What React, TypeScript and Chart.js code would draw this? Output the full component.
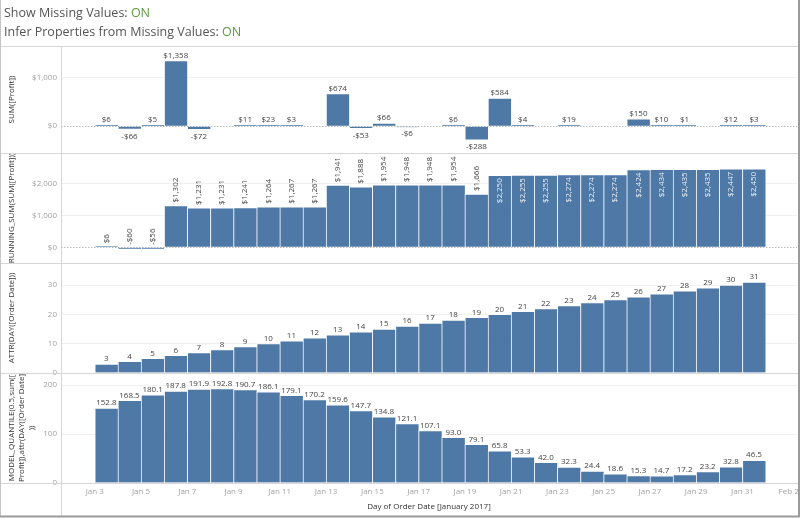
import React, { useEffect, useRef } from "react";
import { Chart, registerables } from "chart.js";

Chart.register(...registerables);

const days = [3, 4, 5, 6, 7, 8, 9, 10, 11, 12, 13, 14, 15, 16, 17, 18, 19, 20, 21, 22, 23, 24, 25, 26, 27, 28, 29, 30, 31];
const sumProfit: (number | null)[] = [6, -66, 5, 1358, -72, null, 11, 23, 3, null, 674, -53, 66, -6, null, 6, -288, 584, 4, null, 19, null, null, 150, 10, 1, null, 12, 3];
const runningSum = [6, -60, -56, 1302, 1231, 1231, 1241, 1264, 1267, 1267, 1941, 1888, 1954, 1948, 1948, 1954, 1666, 2250, 2255, 2255, 2274, 2274, 2274, 2424, 2434, 2435, 2435, 2447, 2450];
const dayOfDate = [3, 4, 5, 6, 7, 8, 9, 10, 11, 12, 13, 14, 15, 16, 17, 18, 19, 20, 21, 22, 23, 24, 25, 26, 27, 28, 29, 30, 31];
const medianModel = [152.8, 168.5, 180.1, 187.8, 191.9, 192.8, 190.7, 186.1, 179.1, 170.2, 159.6, 147.7, 134.8, 121.1, 107.1, 93.0, 79.1, 65.8, 53.3, 42.0, 32.3, 24.4, 18.6, 15.3, 14.7, 17.2, 23.2, 32.8, 46.5];

const xTickDays = [3, 5, 7, 9, 11, 13, 15, 17, 19, 21, 23, 25, 27, 29, 31, 33];
const xTickLabels = ["Jan 3", "Jan 5", "Jan 7", "Jan 9", "Jan 11", "Jan 13", "Jan 15", "Jan 17", "Jan 19", "Jan 21", "Jan 23", "Jan 25", "Jan 27", "Jan 29", "Jan 31", "Feb 2"];
const profitTicks = [0, 1000];
const runningTicks = [0, 1000, 2000];
const dayTicks = [0, 10, 20, 30];
const medianTicks = [0, 100, 200];

const FONT = "'Open Sans', 'Noto Sans', sans-serif";
const BAR = "#4e79a7";
const BAR_EDGE = "rgba(255,255,255,0.6)";

const withCommas = (n: number) => n.toFixed(0).replace(/\B(?=(\d{3})+(?!\d))/g, ",");
const money = (v: number) => (v < 0 ? "-" : "") + "$" + withCommas(Math.abs(v));
const int = (v: number) => String(Math.round(v));
const dec1 = (v: number) => v.toFixed(1);

const toPoints = (vals: (number | null)[]) => days.map((d, i) => ({ x: d + 0.5, y: vals[i] }));

function makeY(title: string | string[], min: number, max: number, ticks: number[], weight: number, fmt: (v: number) => string) {
  return {
    type: "linear" as const,
    position: "left" as const,
    stack: "panels",
    stackWeight: weight,
    min,
    max,
    afterBuildTicks: (s: any) => {
      s.ticks = ticks.map((v) => ({ value: v }));
    },
    afterFit: (s: any) => {
      s.width = 61;
      s.paddingTop = 0;
      s.paddingBottom = 0;
    },
    ticks: {
      callback: (v: any) => fmt(Number(v)),
      color: "#a3a3a3",
      font: { size: 8, family: FONT },
      padding: 4,
    },
    grid: {
      drawTicks: false,
      color: (c: any) => (c.tick && c.tick.value === 0 ? "rgba(0,0,0,0)" : "#f0f0f0"),
      lineWidth: 1,
    },
    border: { display: false },
    title: {
      display: true,
      text: title,
      color: "#333",
      font: { size: 8, family: FONT, lineHeight: 1.25 },
      padding: { top: 7, bottom: 0 },
    },
  };
}

const framePlugin = {
  id: "frame",
  beforeDatasetsDraw(chart: any) {
    const { ctx, chartArea } = chart;
    ctx.save();
    ctx.strokeStyle = "#d6d6d6";
    ctx.lineWidth = 1;
    const ys = [chartArea.top];
    ["yProfit", "yRunning", "yDay", "yMedian"].forEach((id) => ys.push(chart.scales[id].bottom));
    ys.forEach((y) => {
      const yy = Math.round(y) + 0.5;
      ctx.beginPath();
      ctx.moveTo(0, yy);
      ctx.lineTo(chartArea.right + 1, yy);
      ctx.stroke();
    });
    const xl = Math.round(chartArea.left) + 0.5;
    ctx.beginPath();
    ctx.moveTo(xl, chartArea.top);
    ctx.lineTo(xl, chart.height - 3);
    ctx.stroke();
    ctx.strokeStyle = "#bdbdbd";
    ctx.setLineDash([1.5, 1.5]);
    ["yProfit", "yRunning"].forEach((id) => {
      const y = Math.round(chart.scales[id].getPixelForValue(0)) + 0.5;
      ctx.beginPath();
      ctx.moveTo(chartArea.left, y);
      ctx.lineTo(chartArea.right, y);
      ctx.stroke();
    });
    ctx.restore();
  },
  afterDraw(chart: any) {
    const { ctx, width, height } = chart;
    ctx.save();
    ctx.strokeStyle = "#c4c4c4";
    ctx.lineWidth = 1;
    ctx.beginPath();
    ctx.moveTo(0.5, 0);
    ctx.lineTo(0.5, height - 2);
    ctx.stroke();
    ctx.strokeStyle = "#9a9a9a";
    ctx.lineWidth = 2;
    ctx.beginPath();
    ctx.moveTo(0, height - 2.5);
    ctx.lineTo(width - 3, height - 2.5);
    ctx.lineTo(width - 3, 0);
    ctx.stroke();
    ctx.restore();
  },
};

const labelPlugin = {
  id: "valueLabels",
  afterDatasetsDraw(chart: any) {
    const ctx = chart.ctx;
    ctx.save();
    ctx.font = `8px ${FONT}`;
    chart.data.datasets.forEach((ds: any, di: number) => {
      const meta = chart.getDatasetMeta(di);
      const yScale = chart.scales[ds.yAxisID];
      meta.data.forEach((el: any, i: number) => {
        const v = ds.data[i].y;
        if (v === null || v === undefined) return;
        const { x, y, base } = el.getProps(["x", "y", "base"], true);
        const top = Math.min(y, base);
        const bottom = Math.max(y, base);
        if (ds.kind === "money") {
          const t = money(v);
          ctx.fillStyle = "#444";
          ctx.textAlign = "center";
          if (v >= 0) {
            ctx.textBaseline = "bottom";
            ctx.fillText(t, x, top - 1);
          } else {
            ctx.textBaseline = "top";
            ctx.fillText(t, x, bottom + 3);
          }
        } else if (ds.kind === "moneyRot") {
          const t = money(v);
          const w = ctx.measureText(t).width;
          ctx.save();
          ctx.translate(x, top);
          ctx.rotate(-Math.PI / 2);
          ctx.textBaseline = "middle";
          if (top - 3 - w < yScale.top) {
            ctx.fillStyle = "rgba(255,255,255,0.88)";
            ctx.textAlign = "right";
            ctx.fillText(t, -3, 0);
          } else {
            ctx.fillStyle = "#444";
            ctx.textAlign = "left";
            ctx.fillText(t, 3, 0);
          }
          ctx.restore();
        } else {
          const t = ds.kind === "int" ? int(v) : dec1(v);
          ctx.fillStyle = "#444";
          ctx.textAlign = "center";
          ctx.textBaseline = "bottom";
          ctx.fillText(t, x, top - 1);
        }
      });
    });
    ctx.restore();
  },
};

const barStyle = {
  backgroundColor: BAR,
  borderColor: BAR_EDGE,
  borderWidth: { top: 1, left: 1, right: 0, bottom: 1 },
  borderSkipped: "start",
  grouped: false,
  barPercentage: 1,
  categoryPercentage: 1,
  minBarLength: 1,
};

export default function App() {
  const ref = useRef<HTMLCanvasElement | null>(null);

  useEffect(() => {
    document.body.style.margin = "0";
    if (!ref.current) return;
    Chart.defaults.font.family = FONT;
    const chart = new Chart(ref.current, {
      type: "bar",
      data: {
        datasets: [
          { label: "SUM([Profit])", data: toPoints(sumProfit), yAxisID: "yProfit", kind: "money", ...barStyle } as any,
          { label: "RUNNING_SUM(SUM([Profit]))", data: toPoints(runningSum), yAxisID: "yRunning", kind: "moneyRot", ...barStyle } as any,
          { label: "ATTR(DAY([Order Date]))", data: toPoints(dayOfDate), yAxisID: "yDay", kind: "int", ...barStyle } as any,
          { label: "MODEL_QUANTILE", data: toPoints(medianModel), yAxisID: "yMedian", kind: "dec", ...barStyle } as any,
        ],
      },
      options: {
        animation: false,
        responsive: false,
        events: [],
        layout: { padding: { top: 46, right: 5, bottom: 5, left: 0 } },
        plugins: { legend: { display: false }, tooltip: { enabled: false }, colors: { enabled: false } } as any,
        scales: {
          x: {
            type: "linear",
            offset: false,
            min: 1.539,
            max: 33.36,
            afterBuildTicks: (s: any) => {
              s.ticks = xTickDays.map((v) => ({ value: v }));
            },
            afterFit: (s: any) => {
              s.height = 31;
              s.paddingLeft = 0;
              s.paddingRight = 0;
            },
            ticks: {
              callback: (_v: any, i: number) => xTickLabels[i],
              color: "#a3a3a3",
              font: { size: 8, family: FONT },
              padding: 4,
              autoSkip: false,
              maxRotation: 0,
            },
            grid: { display: false, drawTicks: false },
            border: { display: false },
            title: {
              display: true,
              text: "Day of Order Date [January 2017]",
              color: "#333",
              font: { size: 8, family: FONT },
              padding: { top: 6, bottom: 2 },
            },
          },
          yMedian: makeY(["MODEL_QUANTILE(0.5,sum([", "Profit]),attr(DAY([Order Date]", "))"], 0, 224.5, medianTicks, 110, int),
          yDay: makeY("ATTR(DAY([Order Date]))", 0, 37.5, dayTicks, 110, int),
          yRunning: makeY("RUNNING_SUM(SUM([Profit]))", -490, 2945, runningTicks, 110, money),
          yProfit: makeY("SUM([Profit])", -555, 1660, profitTicks, 107, money),
        } as any,
      },
      plugins: [framePlugin, labelPlugin],
    });
    return () => chart.destroy();
  }, []);

  return (
    <div style={{ position: "relative", width: 802, height: 519, background: "#fff", overflow: "hidden" }}>
      <canvas ref={ref} width={802} height={519} style={{ position: "absolute", left: 0, top: 0, width: 802, height: 519 }} />
      <div
        style={{
          position: "absolute",
          left: 4,
          top: 3,
          fontFamily: FONT,
          fontSize: 12.5,
          lineHeight: "19px",
          color: "#555",
          whiteSpace: "nowrap",
        }}
      >
        <div>
          Show Missing Values: <span style={{ color: "#5b9a3d" }}>ON</span>
        </div>
        <div>
          Infer Properties from Missing Values: <span style={{ color: "#5b9a3d" }}>ON</span>
        </div>
      </div>
    </div>
  );
}
